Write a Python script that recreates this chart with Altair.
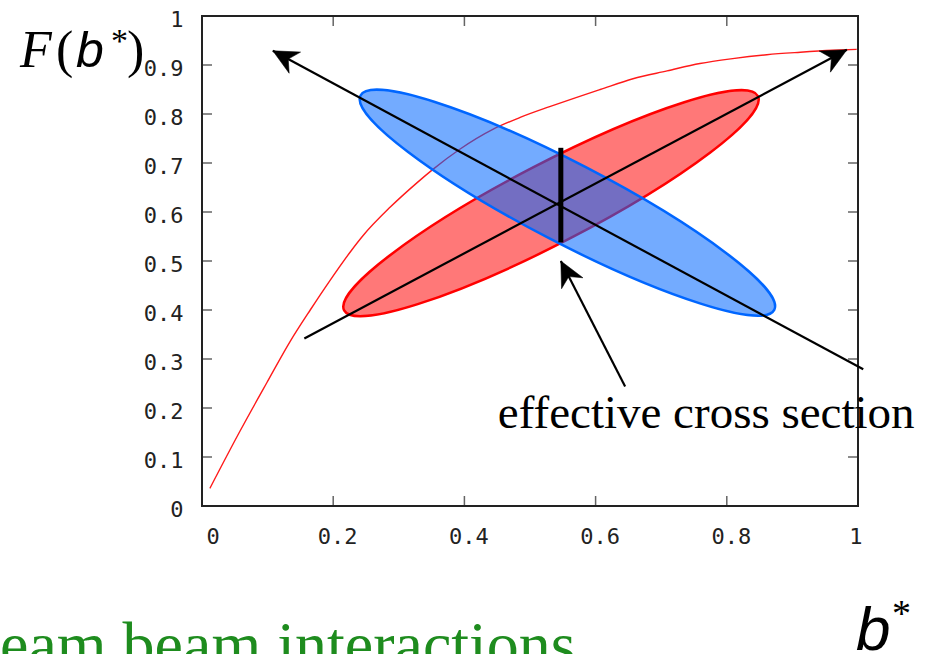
import math
import altair as alt
import pandas as pd

# ---------------- data ----------------
curve_b = [0.012, 0.058, 0.099, 0.134, 0.165, 0.195, 0.228, 0.245, 0.287, 0.328, 0.352, 0.393,
           0.444, 0.485, 0.530, 0.569, 0.607, 0.657, 0.709, 0.759, 0.809, 0.861, 0.912, 0.962, 0.998]
curve_F = [0.036, 0.153, 0.252, 0.335, 0.400, 0.460, 0.522, 0.551, 0.610, 0.660, 0.687, 0.728,
           0.769, 0.793, 0.815, 0.833, 0.850, 0.872, 0.888, 0.903, 0.913, 0.921, 0.926, 0.930, 0.932]

ellipse_names = ["red", "blue"]
ellipse_b = [0.532, 0.557]
ellipse_F = [0.618, 0.619]

arrow_b0 = [0.156, 1.008, 0.645]
arrow_F0 = [0.342, 0.279, 0.244]
arrow_b1 = [0.983, 0.108, 0.547]
arrow_F1 = [0.931, 0.929, 0.500]

bar_b = [0.547]
bar_lo = [0.538]
bar_hi = [0.731]

x_ticks = [0, 0.2, 0.4, 0.6, 0.8, 1]
y_ticks = [0, 0.1, 0.2, 0.3, 0.4, 0.5, 0.6, 0.7, 0.8, 0.9, 1]

annotation_text = "effective cross section"
annotation_b = [0.451]
annotation_F = [0.159]

# ---------------- layout ----------------
W, H = 656, 490
PAD = {"left": 202, "top": 16, "right": 75, "bottom": 148}

xs = alt.Scale(domain=[0, 1], nice=False, zero=False)
ys = alt.Scale(domain=[0, 1], nice=False, zero=False)

axis_common = dict(domain=False, ticks=False, tickSize=0, grid=False,
                   labelFont="DejaVu Sans Mono", labelFontSize=22, labelColor="#222",
                   title=None)
AX = alt.Axis(values=x_ticks, format="~g", labelPadding=20, labelOffset=4, **axis_common)
AY = alt.Axis(values=y_ticks, format="~g", labelPadding=19, labelOffset=3, **axis_common)


def X(field):
    return alt.X(field, scale=xs, axis=AX)


def Y(field):
    return alt.Y(field, scale=ys, axis=AY)


curve_df = pd.DataFrame({"b": curve_b, "F": curve_F})
curve = alt.Chart(curve_df).mark_line(
    color="#ff1a1a", strokeWidth=1.4, interpolate="monotone", clip=False
).encode(x=X("b:Q"), y=Y("F:Q"))

# inward ticks on all four sides
xt_df = pd.DataFrame({"v": x_ticks})
yt_df = pd.DataFrame({"v": y_ticks})
tick_style = dict(color="#222", thickness=1.5, size=10, clip=False)
xt_bottom = alt.Chart(xt_df).mark_tick(orient="vertical", yOffset=-5, **tick_style).encode(
    x=X("v:Q"), y=alt.datum(0, scale=ys, axis=AY))
xt_top = alt.Chart(xt_df).mark_tick(orient="vertical", yOffset=5, **tick_style).encode(
    x=X("v:Q"), y=alt.datum(1, scale=ys, axis=AY))
yt_left = alt.Chart(yt_df).mark_tick(orient="horizontal", xOffset=5, **tick_style).encode(
    y=Y("v:Q"), x=alt.datum(0, scale=xs, axis=AX))
yt_right = alt.Chart(yt_df).mark_tick(orient="horizontal", xOffset=-5, **tick_style).encode(
    y=Y("v:Q"), x=alt.datum(1, scale=xs, axis=AX))

# ellipses as custom symbol paths (unit major semi-axis)
ratio = 40.0 / 233.0
k = 0.5523
kb = k * ratio
ELL = (f"M -1 0 C -1 {-kb:.4f} {-k} {-ratio:.4f} 0 {-ratio:.4f} "
       f"C {k} {-ratio:.4f} 1 {-kb:.4f} 1 0 "
       f"C 1 {kb:.4f} {k} {ratio:.4f} 0 {ratio:.4f} "
       f"C {-k} {ratio:.4f} -1 {kb:.4f} -1 0 Z")
ell_size = 466 ** 2
ell_df = pd.DataFrame({"name": ellipse_names, "b": ellipse_b, "F": ellipse_F})

red_ell = alt.Chart(ell_df).transform_filter(alt.datum.name == "red").mark_point(
    shape=ELL, size=ell_size, angle=332.6, filled=True, fill="#ff0000", fillOpacity=0.53,
    stroke="#ff0000", strokeOpacity=1, strokeWidth=2.5, opacity=1, clip=False
).encode(x=X("b:Q"), y=Y("F:Q"))

blue_ell = alt.Chart(ell_df).transform_filter(alt.datum.name == "blue").mark_point(
    shape=ELL, size=ell_size, angle=27.4, filled=True, fill="#0066ff", fillOpacity=0.55,
    stroke="#0066ff", strokeOpacity=1, strokeWidth=2.5, opacity=1, clip=False
).encode(x=X("b:Q"), y=Y("F:Q"))

# arrows
arr_df = pd.DataFrame({"b0": arrow_b0, "F0": arrow_F0, "b1": arrow_b1, "F1": arrow_F1})
arr_df["angle"] = [
    math.degrees(math.atan2(-(f1 - f0) * H, (b1 - b0) * W)) % 360
    for b0, f0, b1, f1 in zip(arrow_b0, arrow_F0, arrow_b1, arrow_F1)
]
arrow_lines = alt.Chart(arr_df).mark_rule(color="black", strokeWidth=2.2, clip=False).encode(
    x=X("b0:Q"), y=Y("F0:Q"), x2="b1:Q", y2="F1:Q")
HEAD = "M 0 0 L -2 -0.96 L -1.4 0 L -2 0.96 Z"
arrow_heads = alt.Chart(arr_df).mark_point(
    shape=HEAD, size=625, filled=True, fill="black", stroke="black", strokeWidth=0.5,
    opacity=1, clip=False
).encode(x=X("b1:Q"), y=Y("F1:Q"), angle=alt.Angle("angle:Q", scale=None))

bar_df = pd.DataFrame({"b": bar_b, "lo": bar_lo, "hi": bar_hi})
bar = alt.Chart(bar_df).mark_rule(color="black", strokeWidth=5, clip=False).encode(
    x=X("b:Q"), y=Y("lo:Q"), y2="hi:Q")

ann_df = pd.DataFrame({"b": annotation_b, "F": annotation_F, "t": [annotation_text]})
annotation = alt.Chart(ann_df).mark_text(
    font="Liberation Serif", fontSize=47, align="left", baseline="alphabetic", color="black",
    clip=False
).encode(x=X("b:Q"), y=Y("F:Q"), text="t:N")


def label(text, px, py, font, size, italic=False, color="black"):
    kw = dict(text=text, font=font, fontSize=size, align="left", baseline="alphabetic",
              color=color, clip=False)
    if italic:
        kw["fontStyle"] = "italic"
    return alt.Chart(alt.Data(values=[{}])).mark_text(**kw).encode(
        x=alt.value(px), y=alt.value(py))


texts = [
    label("F", -182, 51, "Liberation Serif", 52, italic=True),
    label("(", -146, 51, "Liberation Serif", 52),
    label("b", -126, 51, "Liberation Sans", 50, italic=True),
    label("*", -91, 36, "Liberation Serif", 34),
    label(")", -75, 51, "Liberation Serif", 52),
    label("b", 654, 634, "Liberation Sans", 62, italic=True),
    label("*", 690, 610, "Liberation Serif", 38),
    label("beam beam interactions", -234, 650, "Liberation Serif", 64, color="#1e8c1e"),
]

chart = alt.layer(
    curve, red_ell, blue_ell, arrow_lines, bar, arrow_heads,
    xt_bottom, xt_top, yt_left, yt_right, annotation, *texts
).properties(
    width=W, height=H, autosize=alt.AutoSizeParams(type="none"), padding=PAD,
    background="white"
).configure_view(stroke="#222", strokeWidth=2)

chart.save("out.html", embed_options={"renderer": "svg", "actions": False})
